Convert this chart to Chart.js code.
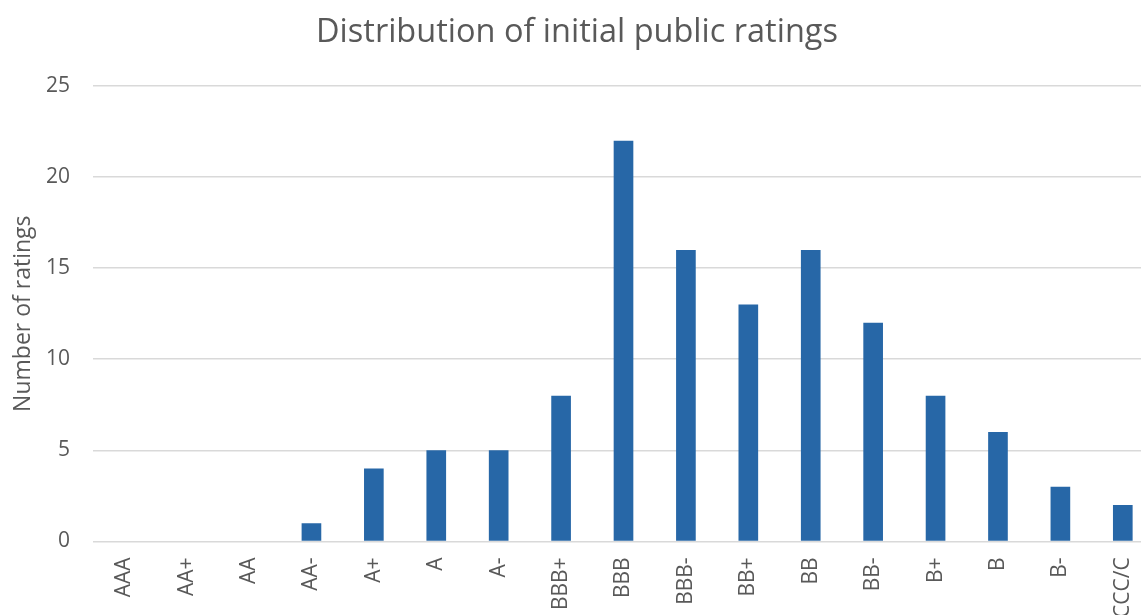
<!DOCTYPE html>
<html>
<head>
<meta charset="utf-8">
<script src="https://cdn.jsdelivr.net/npm/chart.js@4/dist/chart.umd.min.js"></script>
<style>
html,body{margin:0;padding:0;background:#fff;overflow:hidden;}
#wrap{width:1154px;height:634px;overflow:hidden;}
</style>
</head>
<body>
<div id="wrap"><canvas id="c" width="1154" height="634"></canvas></div>
<script>
const categories = ["AAA","AA+","AA","AA-","A+","A","A-","BBB+","BBB","BBB-","BB+","BB","BB-","B+","B","B-","CCC/C"];
const ratingCounts = [0,0,0,1,4,5,5,8,22,16,13,16,12,8,6,3,2];
const yTicks = [0,5,10,15,20,25];
const chartTitle = "Distribution of initial public ratings";
const yAxisTitle = "Number of ratings";

const FONT = "'Open Sans', 'Noto Sans', sans-serif";
const TXT = "#595959";

new Chart(document.getElementById('c'), {
  type: 'bar',
  data: {
    labels: categories,
    datasets: [{
      data: ratingCounts,
      backgroundColor: '#2767A7',
      borderWidth: 0,
      categoryPercentage: 0.315,
      barPercentage: 1.0
    }]
  },
  options: {
    responsive: false,
    animation: false,
    layout: { padding: { left: 0, right: 0, top: 13, bottom: 0 } },
    plugins: {
      legend: { display: false },
      tooltip: { enabled: false },
      title: {
        display: true,
        text: chartTitle,
        color: TXT,
        font: { family: FONT, size: 32.5, weight: 'normal' },
        padding: { top: 0, bottom: 34 }
      }
    },
    scales: {
      x: {
        grid: { display: false, drawTicks: false },
        border: { display: true, color: '#D9D9D9', width: 1 },
        afterFit: (s) => { s.paddingLeft = 0; s.paddingRight = 0; },
        ticks: {
          color: TXT,
          font: { family: FONT, size: 21 },
          minRotation: 90,
          maxRotation: 90,
          padding: 16,
          autoSkip: false
        }
      },
      y: {
        min: 0,
        max: 25,
        afterBuildTicks: (axis) => { axis.ticks = yTicks.map(v => ({ value: v })); },
        afterFit: (s) => { s.width = 93; },
        grid: { color: '#D9D9D9', lineWidth: 1.5, drawTicks: false },
        border: { display: false },
        ticks: {
          color: TXT,
          font: { family: FONT, size: 21 },
          padding: 23
        },
        title: {
          display: true,
          text: yAxisTitle,
          color: TXT,
          font: { family: FONT, size: 23, weight: 'normal' },
          padding: { top: 10, bottom: 0 }
        }
      }
    }
  }
});
</script>
</body>
</html>
